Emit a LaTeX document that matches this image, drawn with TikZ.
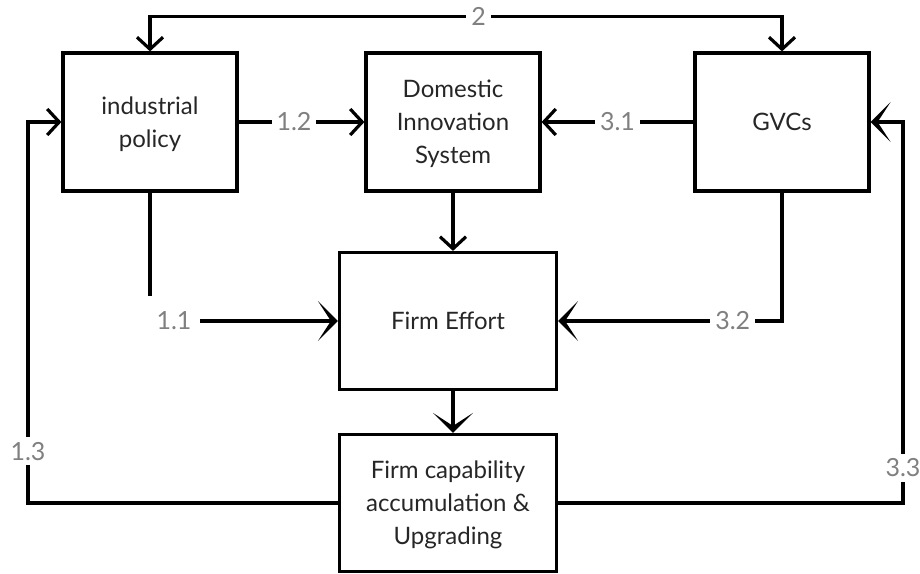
\documentclass[tikz,border=0pt]{standalone}
\usepackage{fontspec}
\setmainfont{Lato}
\usetikzlibrary{arrows.meta}

\begin{document}
\begin{tikzpicture}[x=1pt,y=-1pt]
    \tikzstyle{every node}=[font=\fontsize{24}{33}\selectfont]
    \tikzstyle{box}=[draw,line width=3.2pt,align=center,text=black!85,minimum width=174pt,minimum height=138pt,inner sep=0pt,text depth=0pt]
    \tikzstyle{wide box}=[box,minimum width=217pt,minimum height=137pt]
    \tikzstyle{lbl}=[fill=white,text=black!50,inner sep=5pt,font=\fontsize{25}{28}\selectfont]
    \tikzstyle{link}=[line width=3.2pt,>={Straight Barb[length=12pt,width=26pt]}]
    \tikzstyle{open tip}=[link,->]
    \tikzstyle{big tip}=[link,-{Stealth[length=20pt,width=40pt,inset=13pt]}]
    \useasboundingbox(0,0)rectangle(920,573);
    \draw node[box](ip)at(150,122){industrial\\policy}
          node[box](dis)at(453,122){Domestic\\Innovation\\System}
          node[box](gvc)at(782,122){GVCs}
          node[wide box](fe)at(448,321){Firm Effort}
          node[wide box](fc)at(448,503){Firm capability\\accumulation \&\\Upgrading};
    \coordinate(lft)at(28,0);
    \coordinate(rgt)at(903,0);
    % 2
    \draw[link,<->](ip.north)--++(0,-35)-|node[lbl,pos=0.26]{2}(gvc.north);
    % 1.x
    \draw[open tip](ip)--node[lbl,pos=0.44]{1.2}(dis);
    \draw[big tip](ip.south)|-node[lbl,xshift=24pt,minimum width=52pt,minimum height=50pt]{1.1}(fe.west);
    \draw[open tip](fc.west)--(fc.west-|lft)|-node[lbl,pos=0.068]{1.3}(ip.west);
    % 3.x
    \draw[open tip](gvc)--node[lbl]{3.1}(dis);
    \draw[big tip](gvc.south)|-node[lbl,pos=0.61]{3.2}(fe.east);
    \draw[big tip](fc.east)--(fc.east-|rgt)|-node[lbl,pos=0.046]{3.3}(gvc.east);
    % down the middle
    \draw[open tip](dis.south)--(dis.south|-fe.north);
    \draw[big tip](dis.south|-fe.south)--(dis.south|-fc.north);
\end{tikzpicture}
\end{document}
